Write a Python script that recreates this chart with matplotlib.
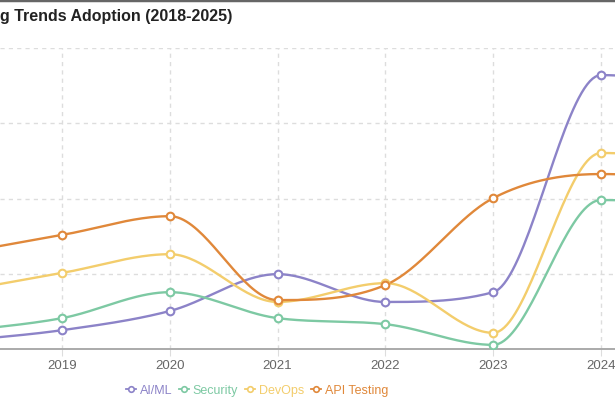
import matplotlib.pyplot as plt
from matplotlib.lines import Line2D
import numpy as np

years = [2018, 2019, 2020, 2021, 2022, 2023, 2024, 2025]
ai_ml = [2.0, 5.0, 10.1, 19.9, 12.5, 15.1, 72.8, 70.0]
security = [4.5, 8.2, 15.1, 8.2, 6.6, 1.1, 39.6, 38.0]
devops = [15.1, 20.2, 25.2, 12.5, 17.5, 4.3, 52.1, 50.0]
api_testing = [25.2, 30.3, 35.3, 13.0, 17.0, 40.1, 46.5, 45.0]
tick_years = [2019, 2020, 2021, 2022, 2023, 2024]

series_names = ["AI/ML", "Security", "DevOps", "API Testing"]
series_colors = ["#8c83c8", "#7dc9a3", "#f3cd6c", "#e0883a"]


def monotone(xs, ys, n=40):
    # same idea as chart.js cubicInterpolationMode 'monotone'
    xs = np.asarray(xs, float)
    ys = np.asarray(ys, float)
    d = np.diff(ys) / np.diff(xs)
    m = np.zeros(len(xs))
    m[0] = d[0]
    m[-1] = d[-1]
    for i in range(1, len(xs) - 1):
        if d[i - 1] * d[i] <= 0:
            m[i] = 0
        else:
            m[i] = (d[i - 1] + d[i]) / 2
    for i in range(len(d)):
        if d[i] == 0:
            m[i] = m[i + 1] = 0
            continue
        a = m[i] / d[i]
        b = m[i + 1] / d[i]
        s = a * a + b * b
        if s > 9:
            t = 3 / np.sqrt(s)
            m[i] = a * t * d[i]
            m[i + 1] = b * t * d[i]
    px, py = [], []
    for i in range(len(d)):
        h = xs[i + 1] - xs[i]
        t = np.linspace(0, 1, n)
        h00 = 2 * t**3 - 3 * t**2 + 1
        h10 = t**3 - 2 * t**2 + t
        h01 = -2 * t**3 + 3 * t**2
        h11 = t**3 - t**2
        px.extend(xs[i] + t * h)
        py.extend(h00 * ys[i] + h10 * h * m[i] + h01 * ys[i + 1] + h11 * h * m[i + 1])
    return np.array(px), np.array(py)


fig = plt.figure(figsize=(6.15, 4.1), dpi=100)
ax = fig.add_axes([0, 60 / 410, 1, 301 / 410])

for vals, name, col in zip([ai_ml, security, devops, api_testing], series_names, series_colors):
    cx, cy = monotone(years, vals)
    ax.plot(cx, cy, color=col, lw=1.7, solid_capstyle="round", zorder=3)
    ax.plot(years, vals, ls="none", marker="o", ms=5.5, mfc="white", mec=col, mew=1.5, zorder=4)

ax.set_xticks(tick_years)
ax.set_xticklabels([str(y) for y in tick_years], family="Liberation Sans")
ax.set_yticks([20, 40, 60, 80])
ax.set_xlim(2018.425, 2024.13)
ax.set_ylim(0, 80)
ax.tick_params(axis="x", length=5, color="#dddddd", labelcolor="#666666", labelsize=9.5, pad=2)
ax.tick_params(axis="y", left=False, labelleft=False)
ax.grid(True, color="#dddddd", ls=(0, (3, 3)), lw=1, zorder=0)
for s in ["top", "left", "right"]:
    ax.spines[s].set_visible(False)
ax.spines["bottom"].set_color("#aaaaaa")
ax.spines["bottom"].set_linewidth(1.4)
ax.set_facecolor("white")

fig.text(0.0, 1 - 17 / 410, "g Trends Adoption (2018-2025)", ha="left", va="center",
         fontsize=11.5, fontweight="bold", color="#222222", family="Liberation Sans")

fig.add_artist(Line2D([0, 1], [0.997, 0.997], color="#666666", lw=2.5, transform=fig.transFigure))

handles = [Line2D([], [], color=c, lw=1.3, marker="o", ms=4, mfc="white", mec=c, mew=1.2)
           for c in series_colors]
leg = fig.legend(handles, series_names, loc="center", bbox_to_anchor=(257 / 615, 1 - 391 / 410),
                 ncol=4, frameon=False, handlelength=0.8, handletextpad=0.3, columnspacing=0.55,
                 prop={"family": "Liberation Sans", "size": 9}, labelcolor=series_colors)

fig.savefig("out.png", dpi=100)
